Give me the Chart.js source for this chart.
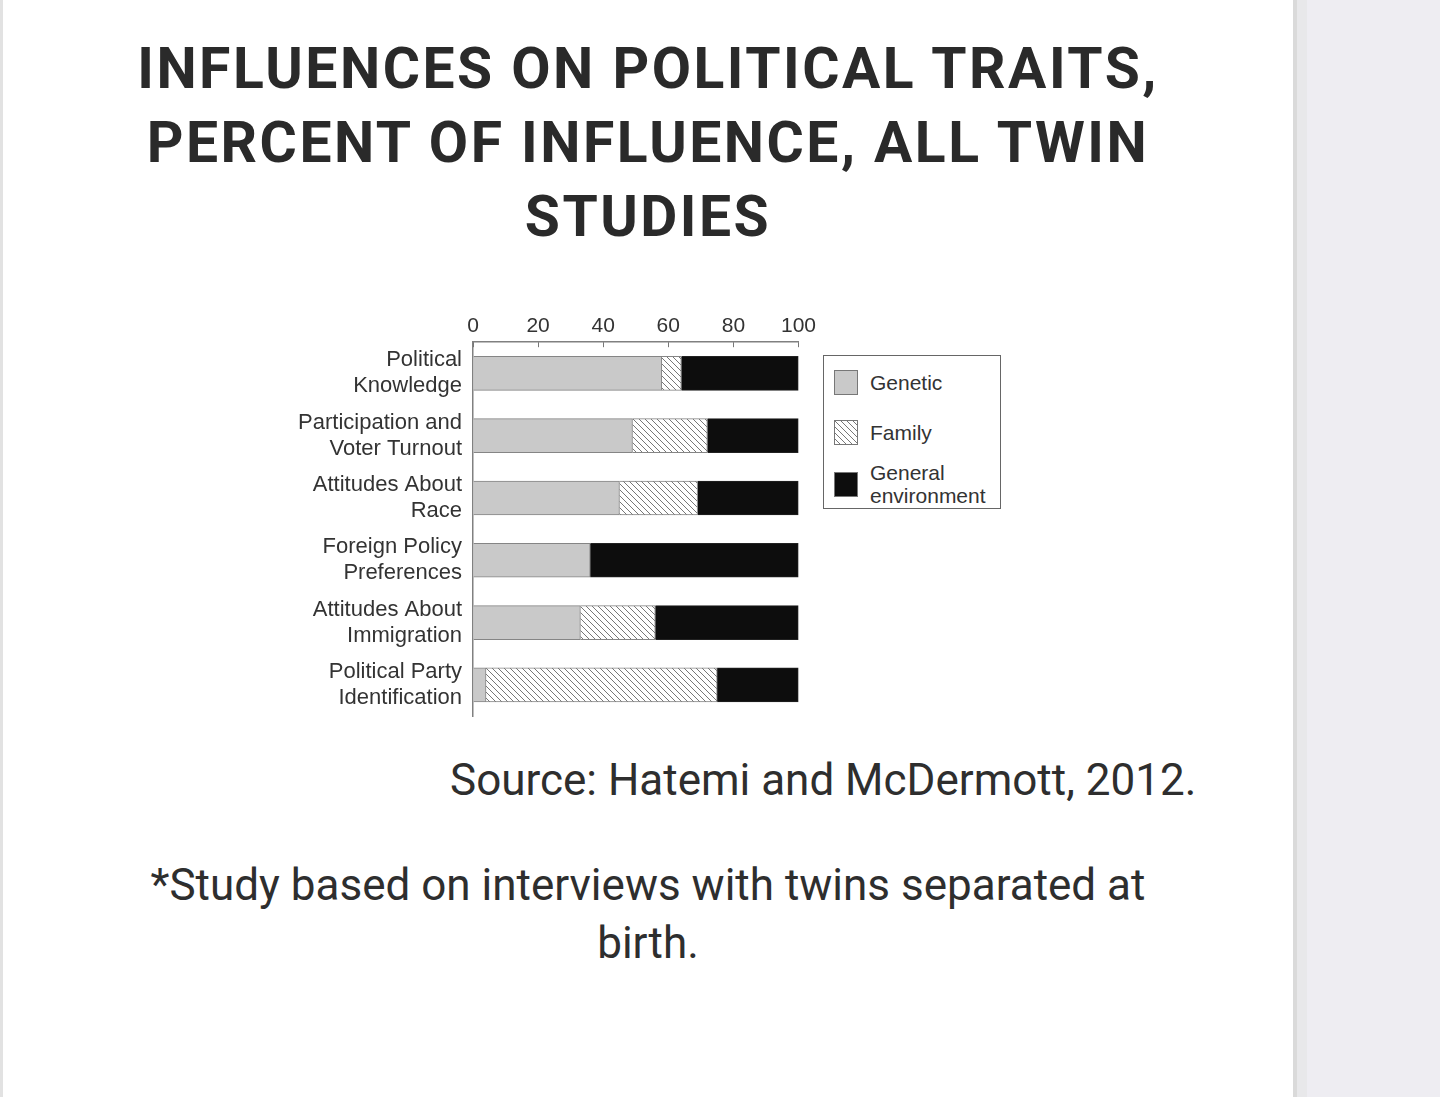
<!DOCTYPE html>
<html>
<head>
<meta charset="utf-8">
<title>Influences on political traits</title>
<script src="https://cdn.jsdelivr.net/npm/chart.js@4.4.1/dist/chart.umd.min.js"></script>
<style>
  html, body { margin: 0; padding: 0; background: #fff; }
  body { width: 1440px; height: 1097px; position: relative; overflow: hidden; font-family: Roboto, sans-serif; color: #2c2c2c; }
  #edge { position: absolute; left: 0; top: 0; width: 3px; height: 100%; background: #e2e2e2; }
  #side { position: absolute; left: 1293px; top: 0; width: 147px; height: 100%; background: #eeedf2; }
  #side::before { content: ''; position: absolute; left: 0; top: 0; width: 4px; height: 100%; background: #dadada; }
  #side::after { content: ''; position: absolute; left: 4px; top: 0; width: 10px; height: 100%; background: #e8e8ea; }
  h1 { position: absolute; left: 0; top: 32px; width: 1296px; margin: 0; text-align: center; font-weight: 700; font-size: 57px; letter-spacing: 2.5px; line-height: 74px; color: #2a2a2a; }
  #source { position: absolute; left: 450px; top: 753px; margin: 0; font-size: 44px; line-height: 54px; color: #2e2e2e; }
  #note { position: absolute; left: 0; top: 856px; width: 1296px; margin: 0; text-align: center; font-size: 44px; line-height: 58px; color: #2e2e2e; }
  #chartBox { position: absolute; left: 270px; top: 302px; width: 549px; height: 451px; }
  #legend { position: absolute; left: 823px; top: 355px; width: 178px; height: 154px; border: 1.5px solid #666; box-sizing: border-box; font-family: "Liberation Sans", Arial, sans-serif; font-size: 21px; color: #333; }
  .item { position: absolute; left: 10px; display: flex; align-items: center; }
  .sw { width: 24px; height: 25px; border: 1.5px solid #777; box-sizing: border-box; margin-right: 12px; flex: none; }
  .lbl { line-height: 23px; }
</style>
</head>
<body>
<div id="edge"></div>
<div id="side"></div>
<h1>INFLUENCES ON POLITICAL TRAITS,<br>PERCENT OF INFLUENCE, ALL TWIN<br>STUDIES</h1>
<div id="chartBox"><canvas id="traitsChart"></canvas></div>
<div id="legend"></div>
<p id="source">Source: Hatemi and McDermott, 2012.</p>
<p id="note">*Study based on interviews with twins separated at<br>birth.</p>
<script>
// categories (two-line labels) and series, percent of influence
const traits = [
  ['Political', 'Knowledge'],
  ['Participation and', 'Voter Turnout'],
  ['Attitudes About', 'Race'],
  ['Foreign Policy', 'Preferences'],
  ['Attitudes About', 'Immigration'],
  ['Political Party', 'Identification']
];
const genetic = [58, 49, 45, 36, 33, 4];
const family = [6, 23, 24, 0, 23, 71];
const environment = [36, 28, 31, 64, 44, 25];
const xTicks = [0, 20, 40, 60, 80, 100];
const seriesNames = ['Genetic', 'Family', ['General', 'environment']];

// diagonal hatch for the family share
function makeHatch() {
  const c = document.createElement('canvas');
  c.width = 6; c.height = 6;
  const g = c.getContext('2d');
  g.fillStyle = '#fff';
  g.fillRect(0, 0, 6, 6);
  g.strokeStyle = '#777';
  g.lineWidth = 1;
  g.beginPath();
  g.moveTo(-1, -1); g.lineTo(7, 7);
  g.moveTo(-1, 5); g.lineTo(1, 7);
  g.moveTo(5, -1); g.lineTo(7, 1);
  g.stroke();
  return c;
}
const hatchCanvas = makeHatch();
const ctx = document.getElementById('traitsChart').getContext('2d');
const hatch = ctx.createPattern(hatchCanvas, 'repeat');

// tick marks pointing down into the plot, like the printed figure
const innerTicks = {
  id: 'innerTicks',
  afterDraw(chart) {
    const sx = chart.scales.x;
    const top = chart.chartArea.top;
    chart.ctx.save();
    chart.ctx.strokeStyle = '#777';
    chart.ctx.lineWidth = 1;
    sx.ticks.forEach(t => {
      const px = Math.round(sx.getPixelForValue(t.value)) + 0.5;
      chart.ctx.beginPath();
      chart.ctx.moveTo(px, top);
      chart.ctx.lineTo(px, top + 5);
      chart.ctx.stroke();
    });
    chart.ctx.restore();
  }
};

const traitsChart = new Chart(ctx, {
  type: 'bar',
  data: {
    labels: traits,
    datasets: [
      { label: seriesNames[0], data: genetic, backgroundColor: '#c9c9c9', borderColor: '#858585', borderWidth: 1 },
      { label: seriesNames[1], data: family, backgroundColor: hatch, borderColor: '#858585', borderWidth: 1 },
      { label: seriesNames[2], data: environment, backgroundColor: '#0d0d0d', borderColor: '#222', borderWidth: 1 }
    ]
  },
  options: {
    indexAxis: 'y',
    responsive: true,
    maintainAspectRatio: false,
    animation: false,
    barThickness: 34,
    layout: { padding: { top: 9, bottom: 0, right: 0, left: 0 } },
    plugins: {
      legend: { display: false },
      tooltip: { enabled: false }
    },
    scales: {
      x: {
        position: 'top',
        stacked: true,
        min: 0,
        max: 100,
        afterBuildTicks: scale => { scale.ticks = xTicks.map(v => ({ value: v })); },
        ticks: { color: '#333', font: { family: 'Liberation Sans', size: 21 }, padding: 3 },
        grid: { display: true, drawOnChartArea: false, drawTicks: false },
        border: { display: true, color: '#808080', width: 1.5 }
      },
      y: {
        stacked: true,
        afterFit: scale => { scale.width = 203; },
        ticks: { color: '#333', font: { family: 'Liberation Sans', size: 22, lineHeight: 1.18 }, padding: 11 },
        grid: { display: true, drawOnChartArea: false, drawTicks: false },
        border: { display: true, color: '#808080', width: 1.5 }
      }
    }
  },
  plugins: [innerTicks]
});

// legend box built from the datasets
const legendEl = document.getElementById('legend');
const itemTops = [14, 64, 105];
traitsChart.data.datasets.forEach((ds, i) => {
  const item = document.createElement('div');
  item.className = 'item';
  item.style.top = itemTops[i] + 'px';
  const sw = document.createElement('span');
  sw.className = 'sw';
  if (ds.backgroundColor === hatch) {
    sw.style.backgroundImage = 'url(' + hatchCanvas.toDataURL() + ')';
  } else {
    sw.style.background = ds.backgroundColor;
  }
  const lbl = document.createElement('span');
  lbl.className = 'lbl';
  lbl.innerHTML = [].concat(ds.label).join('<br>');
  item.appendChild(sw);
  item.appendChild(lbl);
  legendEl.appendChild(item);
});
</script>
</body>
</html>
